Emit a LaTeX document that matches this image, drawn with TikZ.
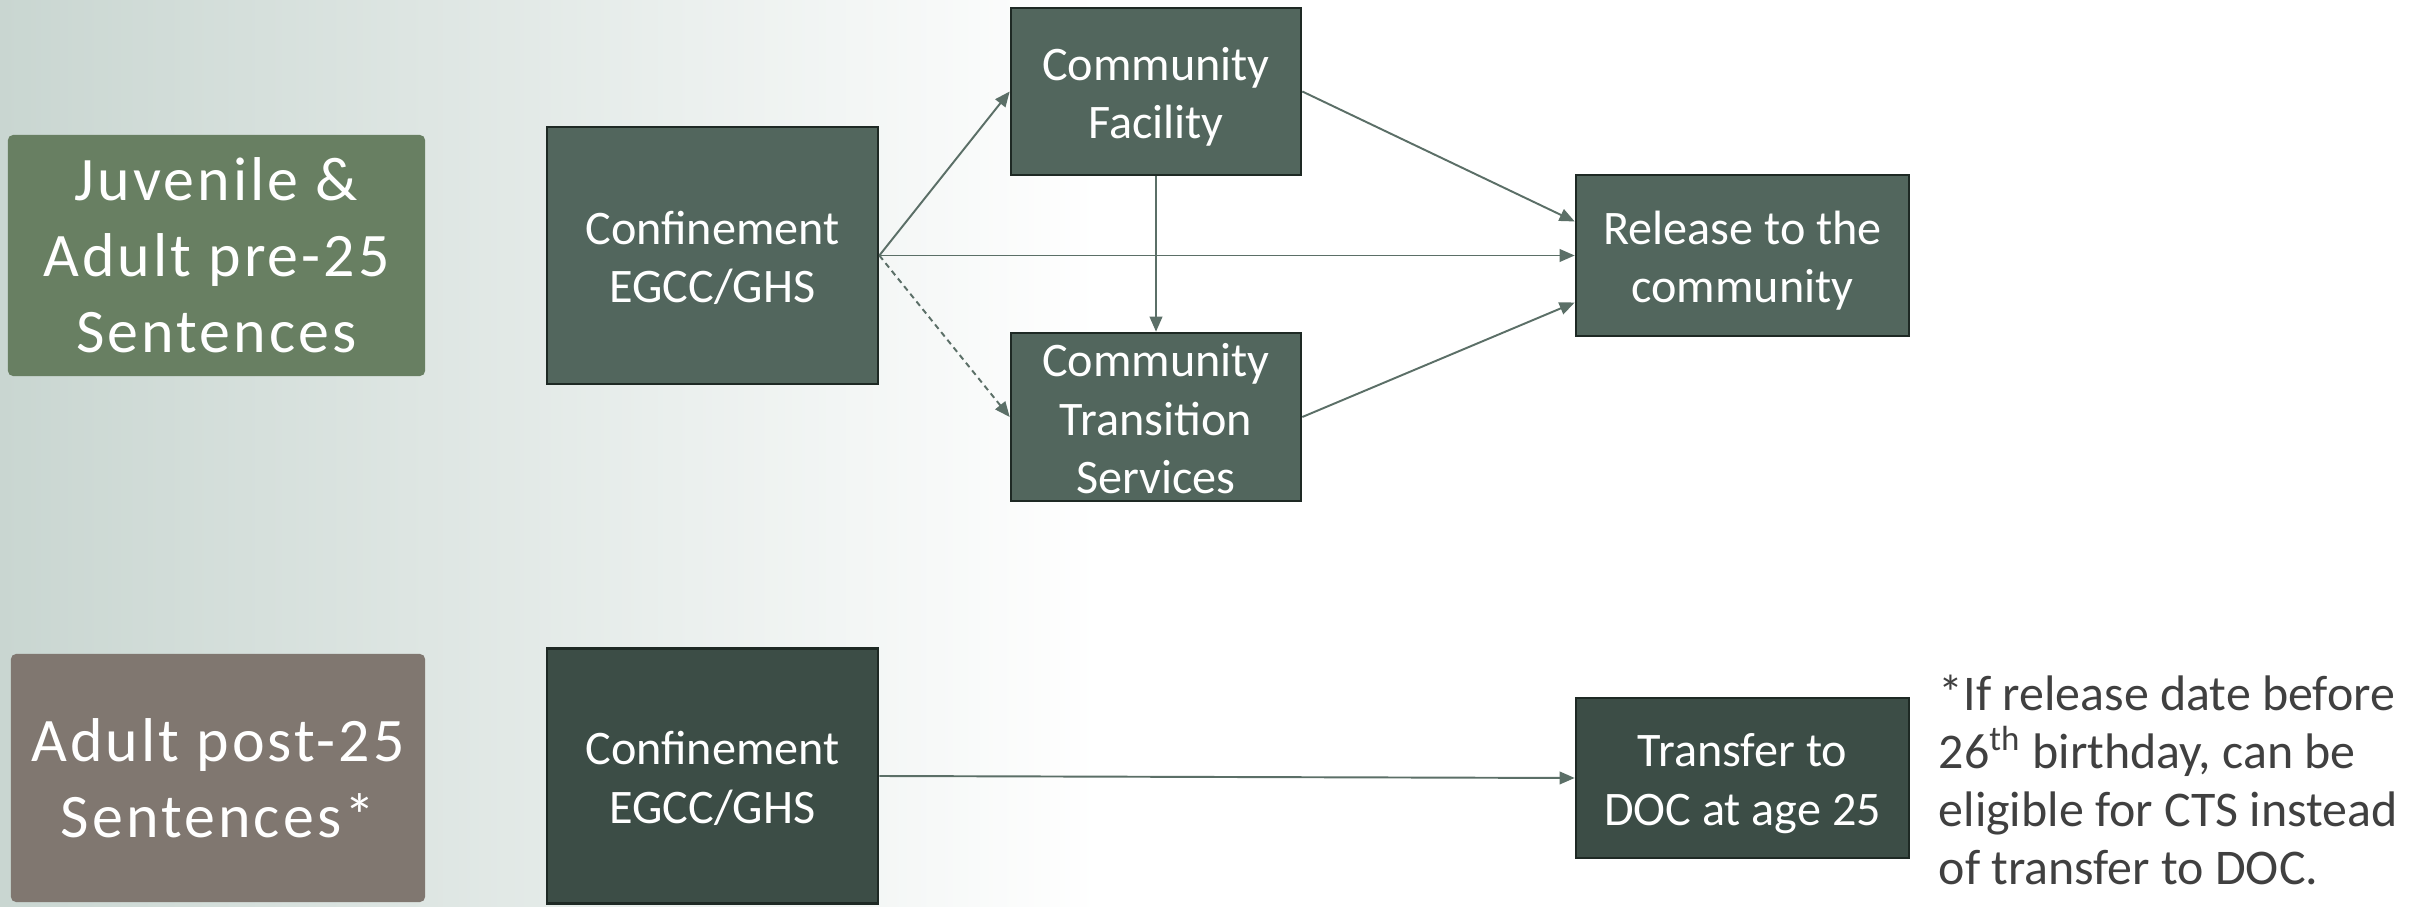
\documentclass[tikz,border=0pt]{standalone}
\usepackage{fontspec}
\setmainfont{Carlito}
\newfontfamily\widefont[LetterSpace=5]{Carlito}
\usetikzlibrary{arrows.meta}
\definecolor{bgl}{HTML}{C9D6D1}
\definecolor{boxfill}{HTML}{52665D}
\definecolor{boxdark}{HTML}{3C4D46}
\definecolor{boxline}{HTML}{1E2924}
\definecolor{juvfill}{HTML}{687F62}
\definecolor{adfill}{HTML}{807770}
\definecolor{arr}{HTML}{5B6F67}
\definecolor{notec}{HTML}{404040}
\newcommand{\boxlines}[1]{\raisebox{0pt}[\height][\dimexpr\depth-3.6pt\relax]{\begin{tabular}{@{}c@{}}#1\end{tabular}}}
\begin{document}
\begin{tikzpicture}[x=0.01cm,y=-0.01cm,
 flowbox/.style={draw=boxline, line width=0.7pt, fill=boxfill, text=white, font=\fontsize{13.7}{16.6}\selectfont, inner sep=0pt},
 darkbox/.style={flowbox, fill=boxdark},
 catbox/.style={rounded corners=1.5pt, text=white, align=center, font=\widefont\fontsize{17.6}{21.6}\selectfont, inner sep=0pt},
 link/.style={draw=arr, line width=0.55pt, -{Triangle[length=4.3pt,width=3.6pt]}}
]
\fill[white] (0,0) rectangle (2425,907);
\shade[left color=bgl, right color=white] (0,0) rectangle (1100,907);
\useasboundingbox (0,0) rectangle (2425,907);

\node[catbox, fill=juvfill, minimum width=4.17cm, minimum height=2.41cm] (juv) at (216.5,255.5) {Juvenile \&\\Adult pre-25\\Sentences};
\node[catbox, fill=adfill, minimum width=4.14cm, minimum height=2.48cm] (adu) at (218,778) {Adult post-25\\Sentences*};

\node[flowbox, minimum width=3.31cm, minimum height=2.57cm] (conf1) at (712.5,255.5) {\boxlines{Confinement\\EGCC/GHS}};
\node[flowbox, minimum width=2.90cm, minimum height=1.67cm] (cf) at (1156,91.5) {\boxlines{Community\\Facility}};
\node[flowbox, minimum width=2.90cm, minimum height=1.68cm] (cts) at (1156,417) {\boxlines{Community\\Transition\\Services}};
\node[flowbox, minimum width=3.33cm, minimum height=1.61cm] (rel) at (1742.5,255.5) {\boxlines{Release to the\\community}};
\node[darkbox, minimum width=3.31cm, minimum height=2.55cm] (conf2) at (712.5,776) {\boxlines{Confinement\\EGCC/GHS}};
\node[darkbox, minimum width=3.33cm, minimum height=1.60cm] (tr) at (1742.5,778) {\boxlines{Transfer to\\DOC at age 25}};

\node[anchor=west, align=left, text=notec, font=\fontsize{14.2}{16.5}\selectfont, inner sep=0pt] (note) at (1938,780) {*If release date before\\26\textsuperscript{th} birthday, can be\\eligible for CTS instead\\of transfer to DOC.};

\draw[link] (conf1.east) -- (cf.west);
\draw[link] (conf1.east) -- (rel.west);
\draw[link, dash pattern=on 1.6pt off 1.2pt] (conf1.east) -- (cts.west);
\draw[link] (cf.south) -- (cts.north);
\draw[link] (cf.east) -- ([yshift=0.34cm]rel.west);
\draw[link] (cts.east) -- ([yshift=-0.47cm]rel.west);
\draw[link] (conf2.east) -- (tr.west);
\end{tikzpicture}
\end{document}
